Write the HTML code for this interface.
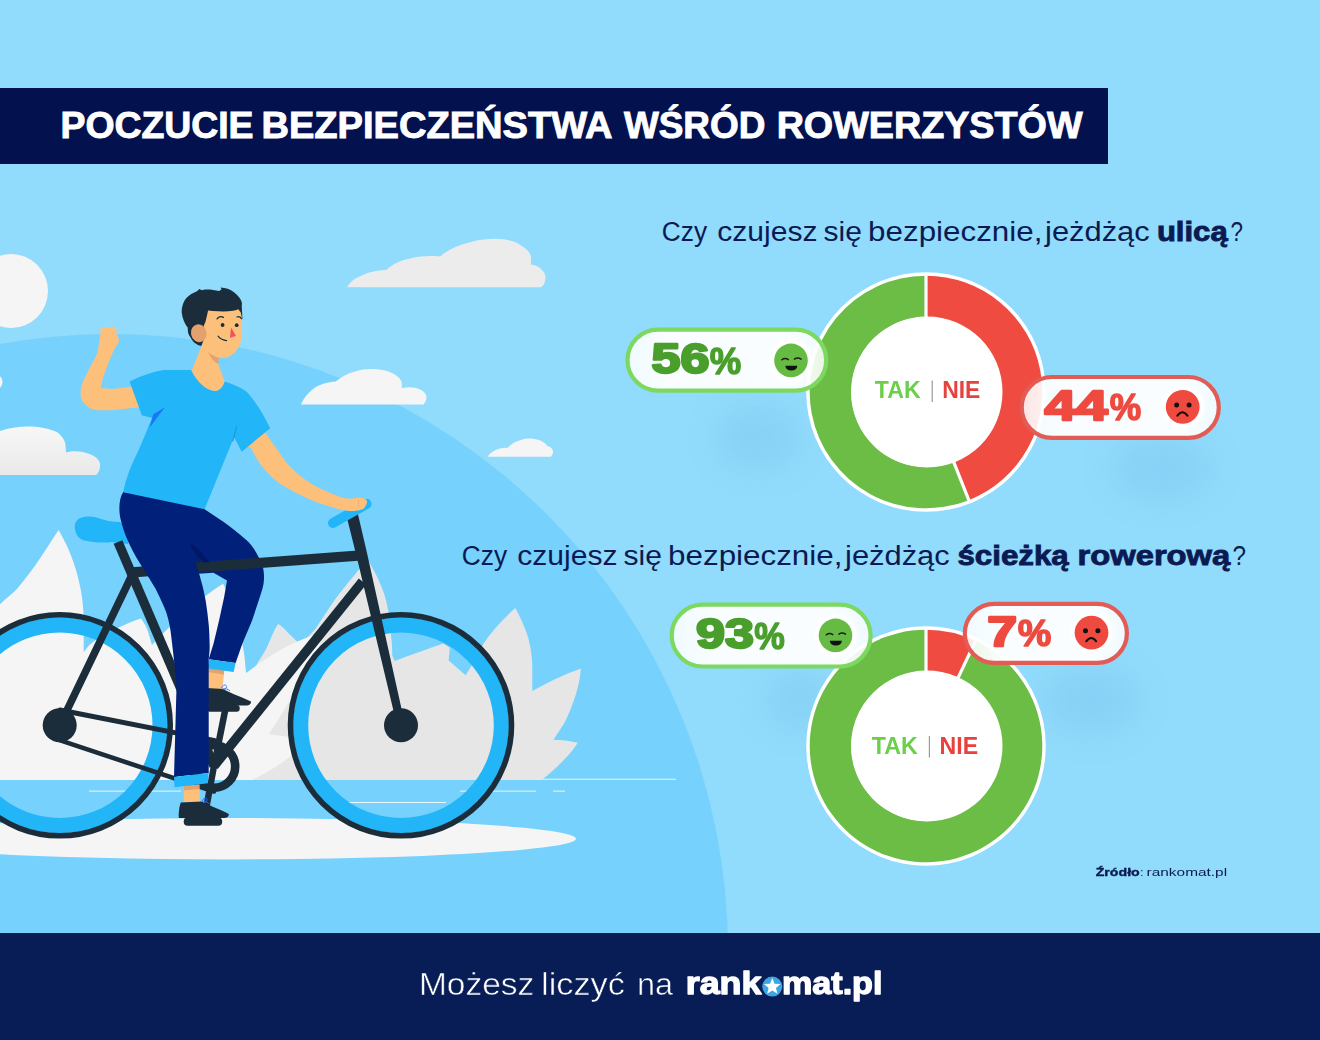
<!DOCTYPE html>
<html lang="pl">
<head>
<meta charset="utf-8">
<title>Poczucie bezpieczeństwa wśród rowerzystów</title>
<style>
html,body{margin:0;padding:0;background:#91dbfc;}
body{width:1320px;height:1040px;overflow:hidden;}
svg{display:block;}
text{font-family:"Liberation Sans",sans-serif;}
.b{font-weight:bold;}
.q{fill:#0b1a52;}
.qb{fill:#0b1a52;font-weight:bold;stroke:#0b1a52;stroke-width:0.9px;}
</style>
</head>
<body>
<svg width="1320" height="1040" viewBox="0 0 1320 1040">
<defs>
<linearGradient id="cl" x1="0" y1="0" x2="0" y2="1"><stop offset="0" stop-color="#f7f7f7"/><stop offset="1" stop-color="#e9e9e9"/></linearGradient>
<clipPath id="gclip"><rect x="0" y="0" width="1320" height="780"/></clipPath>
<filter id="blur18" x="-50%" y="-50%" width="200%" height="200%"><feGaussianBlur stdDeviation="16"/></filter>
<filter id="blur3" x="-50%" y="-50%" width="200%" height="200%"><feGaussianBlur stdDeviation="1.8"/></filter>
<linearGradient id="pillg" x1="0" y1="0" x2="1" y2="0"><stop offset="0" stop-color="#ffffff" stop-opacity="0.86"/><stop offset="0.2" stop-color="#fcfeff" stop-opacity="0.97"/><stop offset="0.8" stop-color="#fcfeff" stop-opacity="0.97"/><stop offset="1" stop-color="#ffffff" stop-opacity="0.86"/></linearGradient>
</defs>
<!-- SKY -->
<rect x="0" y="0" width="1320" height="1040" fill="#91dbfc"/>
<!-- HILL -->
<circle cx="111" cy="951" r="617" fill="#76d1fc"/>
<!-- SUN / CLOUDS -->
<circle cx="11" cy="291" r="37" fill="#f5f5f5"/>
<circle cx="-6" cy="382" r="8.5" fill="#f5f5f5"/>
<path d="M347,287.3 C350,282 354,278.5 359.7,276.5 C368,272 377,270.3 386.2,270 C393,264 401,260 410.2,258.5 C420,256 430,255.5 440.2,256.5 C449,249 460,244.5 472.7,241.6 C480,239.4 489,238.6 496.7,238.75 C506,239 515,241 520.8,245.2 C527,249 531,253 531.1,258.5 L531.1,264.5 C536,265 540,267 542.4,270.5 C545,273 546,276 545.3,279.7 C545,283 543.5,285.5 541.2,287.3 Z" fill="#ececec"/>
<path d="M300.8,404.6 C304,398 308,392.5 314,388.3 C320,384 328,382 335.7,381.5 C341,377 347,373.5 354.9,371.4 C361,369.3 368,368.6 374.1,369 C381,369.3 388,370.5 393.4,373.8 C398,376.5 401.5,379.5 401.8,383.5 L401.8,388.3 C406,387 411,387 415,387.8 C420,389 424,391 425.8,394.3 C427.3,397.5 426.5,401.5 423.4,404.6 Z" fill="#f5f5f5"/>
<path d="M487.6,456.8 C490,453 494,450.3 499.1,448.8 C502,448 505,447.7 507.5,447.9 C511,444 515.5,441.5 520.8,440 C525,438.7 529,438.4 532.8,438.75 C537,439 541,440.3 543.6,442.4 C545.5,443.5 546.8,444.7 547.2,446 C549.5,446.5 551.5,447.8 552.5,449.6 C553.5,452 553,454.8 550.8,456.8 Z" fill="#f5f5f5"/>
<path d="M-5,433 C6,428 22,425.5 37.5,427 C46,428 53,430 57.5,432.5 C62,436 65,440 65.5,445 L66,452.5 C71,451 77,451 82.5,452 C88,453 93,455 96,457.5 C99,460 100.5,463 100,466 C100,470 98.5,473 96,475 L-5,475 Z" fill="url(#cl)"/>
<!-- BUSHES -->
<g clip-path="url(#gclip)">
<path d="M258,662 C263,655 267,648 269.7,641 C272,635 275,629 278.1,624.1 C282,626 285,629.5 288.9,633.75 C293,637 297,641.5 301,645.8 C305,640 310,634.5 315.4,629 C322,619 328,609.5 334.6,600 C341,591.5 347,583.5 353.8,576 C358,570 363,565 368.3,560.4 C372,567 376,574 379,580.9 C383,589.5 386,598 387.5,607.3 C390,617 391,626 391.1,636.2 C392,643 392.3,649 392.3,655.4 L394.7,661 C410,655 427,649 443.4,643.4 L449.8,647.7 L448.7,660.4 L465.6,675.2 L470.9,666.7 C475,659 479,651 483.6,643.4 C492,631 503,619 515.3,608.1 C520,617 525,627 528,637.1 C530.5,646 531.8,655 532.3,664.6 L532.3,691 C547,682.5 563,675 580.9,668.4 C580,679 578,689 574.5,698.4 C571.5,707 568,716 564,723.8 L553.4,739.7 C561,739.7 569,740.8 577.7,742.8 C574,749 569.5,754.5 564,759.7 C557,767 550,773.5 542.8,779 L542.8,790 L240,790 L240,700 Z" fill="#e6e6e6"/>
<path d="M-5,790 L-5,609 C4,600 10,596 16.7,589.3 C26,578.5 34,567.5 41.8,555.8 C48,546.5 53,538.5 58.6,530.1 C63,538 67.5,546.5 71.1,555.8 C74.5,564.5 77.5,574 79.5,583.7 C82,594 83.2,605 83.7,617.2 L83.7,652 L89.3,645 C96,639.5 103,635 111.6,631.1 C120,626.5 130,622 140.9,618.5 C144,622.5 146.2,626.5 147.8,631 L152,645 C163,633 175,621.5 187,611 C199,600.5 210,592 223,583.7 C227,590.5 229.5,598 231.5,606 C235,616.5 238.5,628 241.3,639.5 C243.5,648.5 245,658 245.5,667.4 L246,673 C258,664 271,655 284,648 C297,641 310,636 322,632 C320,646 316,660 310,680 C306,700 302,725 298,750 C285,762 268,772 252,780 L252,790 Z" fill="#f5f5f5"/>
<path d="M289.5,701 C283,712 276,723.5 268.8,734.2 L294,737.5 Z" fill="#e6e6e6"/>
</g>
<!-- GROUND -->
<ellipse cx="230" cy="838.7" rx="346" ry="20.7" fill="#f5f5f5"/>
<g fill="#ffffff" opacity="0.85">
<rect x="543" y="778.7" width="133" height="1"/>
<rect x="89" y="790.6" width="92" height="1"/>
<rect x="460" y="790.6" width="76" height="1"/>
<rect x="553" y="790.6" width="12" height="1"/>
<rect x="348" y="802" width="98" height="1"/>
</g>
<!-- FAR LEG (behind frame) -->
<g id="farleg">
<path d="M198,500 L204.6,509.2 C211,513.3 217,517.5 223,521.5 C231,527 238,533 244.6,538.5 C247,540.5 247,540.5 248,541.5 C252,545.5 256,551.5 259.6,559 C262,563.5 263.5,568 263.8,572.7 C264.2,577 264,581 263.5,584 C262.5,589 261,593.5 259.6,597.7 L252,620.8 L242.3,643.8 L235.6,663 L208.7,659.2 L213.5,643.8 L219,620.8 L224,597.7 L227,580.4 L213.5,572.7 L194,574 L186,540 L195,510 Z" fill="#00207a"/>
<path d="M207.7,668 L224.3,670.5 L222.5,689 L207.2,689 Z" fill="#fdc07b"/>
<path d="M207.7,668 L224.3,670.5 L223.9,674.5 L207.6,672 Z" fill="#e3a26d"/>
<path d="M208.7,659.2 L235.6,663 L233.7,671.9 L207.7,668.6 Z" fill="#22b5f8"/>
<path d="M206.7,688 L223,689 C232,694 244,698 251,701.5 C251.2,704 249,705.6 246,705.6 L206.7,705.6 Z" fill="#1b2d3a"/>
<path d="M221.5,688 c1.5,-3.5 4.5,-4 5,-1.5 c0.4,2 -2.5,3.5 -4,2.5 c3,-0.5 6,0 7.5,2" fill="none" stroke="#2a6df0" stroke-width="0.9"/>
</g>
<!-- BIKE -->
<g id="bike" fill="none" stroke="#1b2d3a" stroke-linecap="round">
<circle cx="59.7" cy="725.3" r="100.4" stroke="#22b5f8" stroke-width="15.2"/>
<circle cx="59.7" cy="725.3" r="110.5" stroke-width="5.6"/>
<circle cx="401" cy="725.3" r="100.4" stroke="#22b5f8" stroke-width="15.2"/>
<circle cx="401" cy="725.3" r="110.5" stroke-width="5.6"/>
<!-- saddle -->
<path d="M74.8,527.5 C74,519.5 82,515.5 92,516.8 C101,518 108,522.5 120,522 L131,530 L128,544 L111.6,542 C101,543.5 92,541.5 84,540.4 C78,538.5 75.2,533.5 74.8,527.5 Z" fill="#22b5f8" stroke="none"/>
<!-- chain -->
<line x1="60" y1="710" x2="214" y2="740.4" stroke-width="5"/>
<line x1="58" y1="739.6" x2="214" y2="791.5" stroke-width="4.6"/>
<!-- frame -->
<line x1="118" y1="542" x2="214" y2="766" stroke-width="9.5" stroke-linecap="butt"/>
<line x1="132" y1="575" x2="59.7" y2="725.3" stroke-width="7.5"/>
<line x1="132" y1="572.4" x2="358" y2="555.7" stroke-width="10.2" stroke-linecap="butt"/>
<line x1="362.5" y1="581.5" x2="214" y2="766" stroke-width="9.5" stroke-linecap="butt"/>
<path d="M346.5,516 L357.8,513.5 L367,553 L405,724.5 L397.2,726.2 L356.5,556 Z" fill="#1b2d3a" stroke="none"/>
<!-- hubs -->
<circle cx="59.7" cy="725.3" r="17" fill="#1b2d3a" stroke="none"/>
<circle cx="401" cy="725.3" r="17" fill="#1b2d3a" stroke="none"/>
<!-- chainring + cranks -->
<circle cx="214" cy="766.5" r="21.2" stroke-width="8.6"/>
<line x1="214" y1="766" x2="225" y2="711" stroke-width="6.5"/>
<line x1="214" y1="766" x2="204" y2="820" stroke-width="6.5"/>
<rect x="206.7" y="705" width="33" height="6.8" rx="3" fill="#1b2d3a" stroke="none"/>
<rect x="183.7" y="817.5" width="38.5" height="8.2" rx="4" fill="#1b2d3a" stroke="none"/>
<!-- handlebar -->
<line x1="333" y1="523" x2="366.6" y2="503.9" stroke="#22b5f8" stroke-width="10"/>
</g>
<!-- NEAR LEG -->
<g id="nearleg">
<path d="M130,486 L123.1,492.3 C118.6,499 118.6,512 120.8,520 C122.5,527 124.5,533 126.9,538.5 L129.8,544.9 C138,562 148,575 155.7,589 C160,598 164,606 166.5,613 C169,621 170.5,629 171.2,636 C173,652 175.5,670 176.5,687.6 L174,777 L208.7,773 L208.7,659 C209.6,652 209.8,648 209.6,643.8 C209.5,637 209.2,630 208.7,624.6 C208,617 207,609 205.8,601.5 C204.5,594 203,587 201,580.4 C199.5,574 197.5,568.5 195.6,563 L200,540 L202,498 Z" fill="#00207a"/>
<path d="M189.4,542.2 C190.5,546 192.5,549.5 194.8,552.6 C197.5,556.3 201,559.8 204.5,562.6 L209.8,562.2 C206,558.6 202.6,554.5 199.6,550.8 C196.5,547.5 193,544.6 189.4,542.2 Z" fill="#001765"/>
<path d="M183.7,786 L199.3,784.5 L200,802 L183.7,802 Z" fill="#fdc07b"/>
<path d="M183.7,786 L199.3,784.5 L199.4,789 L183.7,790.6 Z" fill="#e3a26d"/>
<path d="M174,777 L208.7,773 L208,783.3 L174.6,787.2 Z" fill="#22b5f8"/>
<path d="M180.8,802.5 L202,801.5 C210,806 222,810 228.8,814 C229,816.5 227,818 224,818 L178.8,818 C178.5,812 179.5,806 180.8,802.5 Z" fill="#1b2d3a"/>
<path d="M202,801 c1.5,-3.5 4.5,-4 5,-1.5 c0.4,2 -2.5,3.5 -4,2.5 c3,-0.5 5,0 6.5,2" fill="none" stroke="#2a6df0" stroke-width="0.9"/>
</g>
<!-- ARMS -->
<path d="M140,384 L129.3,387 L112.3,389.1 L100.7,388 L102.8,378.5 L106.5,367.9 L110.7,357.3 L114.4,348.9 L118.1,343.6 C118.8,342 119,340.5 118.9,339.3 L116.6,333 L115.5,326.4 L100.7,328.2 L100.2,336.2 L98.6,345.7 L98,351 L95.4,357.3 L90.1,366.9 L84.8,377.4 C83,381 81.8,384.5 81.1,388 C80.5,390.5 80.4,393 80.6,395.4 C81,398.2 82.2,400.7 83.8,402.8 C85.2,404.8 87,406.4 89,407.6 C91.2,408.9 93.7,409.8 96.5,410.2 L112.3,410.2 L136.7,407.6 L145,408 Z" fill="#fdc07b"/>
<path d="M262,428 L266.25,433.75 C270,439.5 274,445 277.5,450 C280.5,454.5 283.5,458.5 286.25,462.5 C290,466.5 293.5,470 297.5,473.75 C302,477.5 306.5,480.5 311.25,483.75 C316,486.5 321,489 326.25,491.25 C331,493.5 335.5,495.3 340,496.9 C343.5,497.9 347,498.5 350,498.75 C353,498.7 356,497.6 358.75,497.5 C361.5,497.5 364,498.2 365.6,499.4 C367,500.4 367.4,501.8 366.9,503.1 C366.2,505.2 365,507 363.75,508.75 L360,510 C357,510.8 353.5,511.1 350,511 C346.5,510.7 343.5,510.1 340,509.4 C335,508.2 330,506.7 325,505 C320,503.2 315,501.4 310,499.4 C305,497.3 300,495 295,492.5 C290,489.8 285,487 280,483.75 C275.5,480.5 271.5,476.5 267.5,472.5 C263.5,468.5 260.5,464.5 257.5,460 L250.6,447.5 L240,445 Z" fill="#fdc07b"/>
<path d="M358.5,500 L358.6,507.6" stroke="#e8ad70" stroke-width="0.8" fill="none"/>
<!-- TORSO -->
<path d="M129.6,381.6 C140,376 152,372 163.8,370 L191,370 C196,380 206,390 215,391 C220,390 223,386 224.8,381.6 C232,384 240,387 246.9,392 C256,402 264,415 270.2,428.3 L241.7,451.7 L234,437 L204.6,509.2 L123.1,492.3 C126,478 131,465 137.9,451.7 C143,440 148,428 152,418 L141.8,415.3 Z" fill="#22b5f8"/>
<path d="M164.8,407.6 L153.3,414.3 L149.6,427.8 C154.6,421.2 159.8,414.2 164.8,407.6 Z" fill="#1a78f5"/>
<path d="M236.6,426 L232.6,441.3 L234.2,437 Z" fill="#1a9be0" stroke="#1a9be0" stroke-width="0.8"/>
<!-- NECK + HEAD -->
<path d="M202.3,344 L191.7,370.4 C196,381 206,390.5 215.5,391 C220,390.5 223.5,386 224.5,381 L217.6,362 Z" fill="#fdc07b"/>
<path d="M208,352 L219,358.5 L217.9,363.8 C214,362 210.5,358 208,352 Z" fill="#e3a26d"/>
<path d="M206,305 L240,303 C242.5,318 242.6,330 241.5,338 C240,348 233,358 223,358 C213,358 205,350 202.3,344 C201,335 203,320 206,312 Z" fill="#fdc07b"/>
<path d="M201.2,346.1 C199,345.5 197,344.5 194.9,343 C193,341.5 191.8,339.8 190.7,337.7 C189.5,336 188.5,334.3 188,332.4 L187.7,327.6 C186,325.5 184.8,323.2 183.8,320.7 C182.6,318 181.9,315.2 181.7,312.3 C181.6,309.8 182,307.2 182.7,304.9 C183.5,302.3 184.7,300 186.4,298 C188,296.3 189.7,294.9 191.7,293.8 C193,293 194.5,292.3 196,291.7 C197.3,291 198.4,290.1 199.3,289 L201.8,290.3 C203,289.9 204.3,289.7 205.5,289.6 C208,289.5 210.5,289.6 212.9,289.9 C215,290.2 217.2,290.6 219.2,291.1 L221.6,289.3 L220.5,287.4 C223,287.6 225.4,288.1 227.7,288.8 C230,289.7 232.1,290.8 234,292.2 C236,293.7 237.8,295.5 239.3,297.5 C240.5,299.2 241.4,301 241.9,302.8 L241.8,307 L242.5,319.9 L240.7,312.2 L238.2,309.3 C236.5,310 234.8,310.5 233,310.7 C230,311.2 226.7,311.4 223.4,311.4 C220,311.4 216.4,311.3 212.9,311 L208.1,310.4 L207,315.5 L205.5,321.8 L203.9,325.5 L204.5,338 Z" fill="#1b2d3a"/>
<ellipse cx="198.8" cy="333.2" rx="7.8" ry="9" transform="rotate(-12 198.8 333.2)" fill="#e3a26d"/>
<circle cx="222.6" cy="325" r="1.9" fill="#1b2d3a"/>
<circle cx="236.7" cy="325.2" r="1.9" fill="#1b2d3a"/>
<path d="M217,318.8 Q220,315.3 223.4,317.4" fill="none" stroke="#1b2d3a" stroke-width="1.3" stroke-linecap="round"/>
<path d="M237,317 Q239.6,315.6 241.5,318.6" fill="none" stroke="#1b2d3a" stroke-width="1.3" stroke-linecap="round"/>
<path d="M231,327.6 L230,337.7 L236,336 Z" fill="#f0515c"/>
<path d="M218,336.2 Q221.5,340.4 226.6,340.6" fill="none" stroke="#1b2d3a" stroke-width="1.1" stroke-linecap="round"/>
<!-- TITLE BAR -->
<rect x="0" y="88" width="1108" height="76" fill="#03124f"/>
<g class="b" fill="#ffffff" stroke="#ffffff" stroke-width="0.9">
<text id="t1" x="60.5" y="138.15" font-size="36.0" textLength="193.02" lengthAdjust="spacingAndGlyphs">POCZUCIE</text>
<text id="t2" x="261.5" y="138.15" font-size="36.0" textLength="351.0" lengthAdjust="spacingAndGlyphs">BEZPIECZEŃSTWA</text>
<text id="t3" x="623.9" y="138.15" font-size="36.0" textLength="141.45" lengthAdjust="spacingAndGlyphs">WŚRÓD</text>
<text id="t4" x="776.65" y="138.15" font-size="36.0" textLength="305.85" lengthAdjust="spacingAndGlyphs">ROWERZYSTÓW</text>
</g>
<!-- QUESTION 1 -->
<g id="q1">
<text id="q1a" font-size="28.4" class="q" x="661.75" y="240.5" textLength="45.28" lengthAdjust="spacingAndGlyphs">Czy</text>
<text id="q1b" font-size="28.4" class="q" x="717.2" y="240.5" textLength="100.32" lengthAdjust="spacingAndGlyphs">czujesz</text>
<text id="q1c" font-size="28.4" class="q" x="823.5" y="240.5" textLength="38.3" lengthAdjust="spacingAndGlyphs">się</text>
<text id="q1d" font-size="28.4" class="q" x="868.1" y="240.5" textLength="174.33" lengthAdjust="spacingAndGlyphs">bezpiecznie,</text>
<text id="q1e" font-size="28.4" class="q" x="1045.1" y="240.5" textLength="104.55" lengthAdjust="spacingAndGlyphs">jeżdżąc</text>
<text id="q1f" font-size="28.4" class="qb" x="1156.9" y="240.5" textLength="70.77" lengthAdjust="spacingAndGlyphs">ulicą</text>
<text id="q1g" font-size="28.4" class="q" x="1230.5" y="240.5" textLength="12.46" lengthAdjust="spacingAndGlyphs">?</text>
</g>
<!-- QUESTION 2 -->
<g id="q2">
<text id="q2a" font-size="28.4" class="q" x="461.75" y="565.3" textLength="45.28" lengthAdjust="spacingAndGlyphs">Czy</text>
<text id="q2b" font-size="28.4" class="q" x="517.2" y="565.3" textLength="100.32" lengthAdjust="spacingAndGlyphs">czujesz</text>
<text id="q2c" font-size="28.4" class="q" x="623.5" y="565.3" textLength="38.3" lengthAdjust="spacingAndGlyphs">się</text>
<text id="q2d" font-size="28.4" class="q" x="668.1" y="565.3" textLength="174.33" lengthAdjust="spacingAndGlyphs">bezpiecznie,</text>
<text id="q2e" font-size="28.4" class="q" x="845.1" y="565.3" textLength="104.55" lengthAdjust="spacingAndGlyphs">jeżdżąc</text>
<text id="q2f" font-size="28.4" class="qb" x="957.5" y="565.3" textLength="111.15" lengthAdjust="spacingAndGlyphs">ścieżką</text>
<text id="q2g" font-size="28.4" class="qb" x="1077.55" y="565.3" textLength="152.68" lengthAdjust="spacingAndGlyphs">rowerową</text>
<text id="q2h" font-size="28.4" class="q" x="1232.5" y="565.3" textLength="13.5" lengthAdjust="spacingAndGlyphs">?</text>
</g>
<!-- SOFT SHADOWS -->
<g opacity="0.34">
<ellipse cx="758" cy="438" rx="40" ry="30" fill="#74bfe9" filter="url(#blur18)"/>
<ellipse cx="1162" cy="468" rx="48" ry="30" fill="#74bfe9" filter="url(#blur18)"/>
<ellipse cx="1090" cy="700" rx="48" ry="32" fill="#74bfe9" filter="url(#blur18)"/>
<ellipse cx="800" cy="700" rx="32" ry="28" fill="#74bfe9" filter="url(#blur18)"/>
</g>
<!-- DONUT 1 -->
<circle cx="926" cy="392" r="119.8" fill="#ffffff"/>
<path d="M926.00,275.70 A116.3,116.3 0 0 1 968.81,500.13 L953.61,461.73 A75,75 0 0 0 926.00,317.00 Z" fill="#ef4b40"/>
<path d="M968.81,500.13 A116.3,116.3 0 1 1 926.00,275.70 L926.00,317.00 A75,75 0 1 0 953.61,461.73 Z" fill="#6cbd45"/>
<line x1="926.00" y1="322.00" x2="926.00" y2="273.00" stroke="#ffffff" stroke-width="3.2"/>
<line x1="951.77" y1="457.08" x2="969.81" y2="502.64" stroke="#ffffff" stroke-width="3.2"/>
<circle cx="927" cy="392" r="75.5" fill="#ffffff"/>
<text id="d1t" x="874.8" y="397.65" class="b" font-size="24.1" fill="#6ccf4a" textLength="45.82" lengthAdjust="spacingAndGlyphs">TAK</text>
<rect x="931.6" y="380.5" width="1.2" height="21.5" fill="#9a9a9a"/>
<text id="d1n" x="942.15" y="397.65" class="b" font-size="24.1" fill="#e8423f" textLength="38.2" lengthAdjust="spacingAndGlyphs">NIE</text>
<!-- DONUT 2 -->
<circle cx="926" cy="746" r="119.8" fill="#ffffff"/>
<path d="M926.00,629.70 A116.3,116.3 0 0 1 975.52,640.77 L957.93,678.14 A75,75 0 0 0 926.00,671.00 Z" fill="#ef4b40"/>
<path d="M975.52,640.77 A116.3,116.3 0 1 1 926.00,629.70 L926.00,671.00 A75,75 0 1 0 957.93,678.14 Z" fill="#6cbd45"/>
<line x1="926.00" y1="676.00" x2="926.00" y2="627.00" stroke="#ffffff" stroke-width="3.2"/>
<line x1="955.80" y1="682.66" x2="976.67" y2="638.33" stroke="#ffffff" stroke-width="3.2"/>
<circle cx="927" cy="746" r="75.5" fill="#ffffff"/>
<text id="d2t" x="871.7" y="753.6" class="b" font-size="24.1" fill="#6ccf4a" textLength="45.96" lengthAdjust="spacingAndGlyphs">TAK</text>
<rect x="928.8" y="736" width="1.2" height="21.5" fill="#9a9a9a"/>
<text id="d2n" x="939.55" y="753.6" class="b" font-size="24.1" fill="#e8423f" textLength="38.61" lengthAdjust="spacingAndGlyphs">NIE</text>
<!--PILLS-->
<!-- PILLS -->
<g id="pill-56">
<rect x="627.5" y="329.6" width="198.7" height="61.1" rx="30.55" fill="url(#pillg)" stroke="#7dd860" stroke-width="4.2"/>
<text id="p56" x="651.6" y="373.25" class="b" font-size="41.75" fill="#4a9f2c" stroke="#4a9f2c" stroke-width="2.4" stroke-linejoin="round" textLength="57.93" lengthAdjust="spacingAndGlyphs">56</text>
<text id="p56p" x="709.75" y="374.0" class="b" font-size="37.48" fill="#4a9f2c" stroke="#4a9f2c" stroke-width="1.4" stroke-linejoin="round" textLength="31.48" lengthAdjust="spacingAndGlyphs">%</text>
<circle cx="791" cy="360.4" r="21.5" fill="#ffffff" filter="url(#blur3)"/>
<circle cx="791" cy="360.4" r="16.8" fill="#66bb42"/>
<path d="M781.8,359.8 Q785,357.4 788.3,359.6" fill="none" stroke="#1d1d1b" stroke-width="1.5" stroke-linecap="round"/>
<path d="M794.4,359.2 Q797.7,357 801,359.2" fill="none" stroke="#1d1d1b" stroke-width="1.5" stroke-linecap="round"/>
<path d="M785.3,365.8 L797.4,365.8 Q797,370.6 791.3,370.6 Q785.8,370.6 785.3,365.8 Z" fill="#111111"/>
</g>
<g id="pill-44">
<rect x="1021.7" y="377" width="197.1" height="60.9" rx="30.45" fill="url(#pillg)" stroke="#e25b55" stroke-width="4.2"/>
<text id="p44" x="1044.45" y="419.75" class="b" font-size="42.84" fill="#ee4a3f" stroke="#ee4a3f" stroke-width="2.4" stroke-linejoin="round" textLength="63.38" lengthAdjust="spacingAndGlyphs">44</text>
<text id="p44p" x="1109.75" y="420.0" class="b" font-size="37.48" fill="#ee4a3f" stroke="#ee4a3f" stroke-width="1.4" stroke-linejoin="round" textLength="31.48" lengthAdjust="spacingAndGlyphs">%</text>
<circle cx="1182.7" cy="406.9" r="21.5" fill="#ffffff" filter="url(#blur3)"/>
<circle cx="1182.7" cy="406.9" r="16.9" fill="#ee4a3f"/>
<circle cx="1176.7" cy="405.1" r="2.5" fill="#111111"/>
<circle cx="1189.1" cy="405.1" r="2.5" fill="#111111"/>
<path d="M1177.4,415.6 Q1182.4,409 1187.4,415.6" fill="none" stroke="#111111" stroke-width="2" stroke-linecap="round"/>
</g>
<g id="pill-93">
<rect x="671.7" y="604.7" width="198.9" height="61.8" rx="30.9" fill="url(#pillg)" stroke="#7dd860" stroke-width="4.2"/>
<text id="p93" x="696.05" y="648.25" class="b" font-size="41.75" fill="#4a9f2c" stroke="#4a9f2c" stroke-width="2.4" stroke-linejoin="round" textLength="57.92" lengthAdjust="spacingAndGlyphs">93</text>
<text id="p93p" x="754.25" y="649.0" class="b" font-size="37.13" fill="#4a9f2c" stroke="#4a9f2c" stroke-width="1.4" stroke-linejoin="round" textLength="30.52" lengthAdjust="spacingAndGlyphs">%</text>
<circle cx="835.5" cy="635.4" r="21.5" fill="#ffffff" filter="url(#blur3)"/>
<circle cx="835.5" cy="635.4" r="16.8" fill="#66bb42"/>
<path d="M826.3,634.8 Q829.5,632.4 832.8,634.6" fill="none" stroke="#1d1d1b" stroke-width="1.5" stroke-linecap="round"/>
<path d="M838.9,634.2 Q842.2,632 845.5,634.2" fill="none" stroke="#1d1d1b" stroke-width="1.5" stroke-linecap="round"/>
<path d="M829.8,640.8 L841.9,640.8 Q841.5,645.6 835.8,645.6 Q830.3,645.6 829.8,640.8 Z" fill="#111111"/>
</g>
<g id="pill-7">
<rect x="964.8" y="603.8" width="162.1" height="59.1" rx="29.55" fill="url(#pillg)" stroke="#e25b55" stroke-width="4.2"/>
<text id="p7" x="987.25" y="645.65" class="b" font-size="42.84" fill="#ee4a3f" stroke="#ee4a3f" stroke-width="2.4" stroke-linejoin="round" textLength="29.91" lengthAdjust="spacingAndGlyphs">7</text>
<text id="p7p" x="1017.75" y="645.9" class="b" font-size="37.48" fill="#ee4a3f" stroke="#ee4a3f" stroke-width="1.4" stroke-linejoin="round" textLength="33.58" lengthAdjust="spacingAndGlyphs">%</text>
<circle cx="1091.5" cy="632.6" r="21.5" fill="#ffffff" filter="url(#blur3)"/>
<circle cx="1091.5" cy="632.6" r="16.9" fill="#ee4a3f"/>
<circle cx="1085.5" cy="630.8" r="2.5" fill="#111111"/>
<circle cx="1097.9" cy="630.8" r="2.5" fill="#111111"/>
<path d="M1086.2,641.3 Q1091.2,634.7 1096.2,641.3" fill="none" stroke="#111111" stroke-width="2" stroke-linecap="round"/>
</g>
<!-- SOURCE -->
<text id="srcb" x="1095.7" y="876.3" class="b" font-size="11.3" fill="#0b1a52" stroke="#0b1a52" stroke-width="0.35" textLength="44.07" lengthAdjust="spacingAndGlyphs">Źródło</text>
<text id="srcc" x="1140.3" y="876.3" font-size="11.3" fill="#0b1a52">:</text>
<text id="srcr" x="1146.6" y="876.3" font-size="11.3" fill="#0b1a52" textLength="80.5" lengthAdjust="spacingAndGlyphs">rankomat.pl</text>
<!-- FOOTER -->
<rect x="0" y="933" width="1320" height="107" fill="#081c56"/>
<g id="footer-text" fill="#ffffff">
<text id="f1" stroke="#081c56" stroke-width="0.55" x="418.95" y="995.2" font-size="31.0" textLength="115.39" lengthAdjust="spacingAndGlyphs">Możesz</text>
<text id="f2" stroke="#081c56" stroke-width="0.55" x="541.05" y="995.2" font-size="31.0" textLength="83.76" lengthAdjust="spacingAndGlyphs">liczyć</text>
<text id="f3" stroke="#081c56" stroke-width="0.55" x="636.95" y="995.2" font-size="31.0" textLength="36.06" lengthAdjust="spacingAndGlyphs">na</text>
<text id="f4" x="685.7" y="994.4" class="b" font-size="31.5" stroke="#ffffff" stroke-width="1.3" stroke-linejoin="round" textLength="75.78" lengthAdjust="spacingAndGlyphs">rank</text>
<text id="f5" x="781.9" y="994.4" class="b" font-size="31.5" stroke="#ffffff" stroke-width="1.3" stroke-linejoin="round" textLength="100.59" lengthAdjust="spacingAndGlyphs">mat.pl</text>
<text x="763.5" y="993.6" class="b" font-size="28" fill="#3aa7e2">o</text>
<circle cx="772.3" cy="986.6" r="10" fill="#3aa7e2"/>
<path d="M772.3,978.1 L774.55,983.7 L780.6,984.1 L775.95,987.95 L777.45,993.8 L772.3,990.6 L767.15,993.8 L768.65,987.95 L764,984.1 L770.05,983.7 Z" fill="#ffffff"/>
</g>
</svg>
</body>
</html>
